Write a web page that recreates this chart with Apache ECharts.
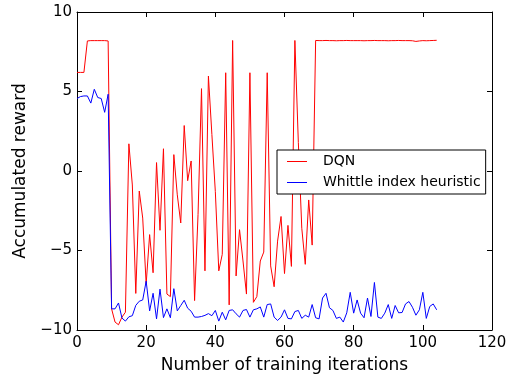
<!DOCTYPE html>
<html>
<head>
<meta charset="utf-8">
<script src="https://cdn.jsdelivr.net/npm/echarts@6/dist/echarts.min.js"></script>
<style>
  html, body { margin: 0; padding: 0; background: #fff; }
  #chart { width: 514px; height: 379px; }
</style>
</head>
<body>
<div id="chart"></div>
<script>
// accumulated reward per training iteration (iterations 0..104)
const dqnReward = [
  6.2, 6.2, 6.2, 8.18, 8.2, 8.2, 8.2, 8.2, 8.2, 8.18,
  -8.67, -9.5, -9.67, -9.19, -8.88, 1.71, -0.88, -7.7, -1.26, -2.96,
  -7.1, -4.0, -6.4, 0.53, -3.73, 1.4, -7.74, -7.9, 1.03, -1.5,
  -3.27, 2.86, -0.61, 0.63, -8.15, -2.75, 5.18, -6.28, 5.97, 2.3,
  -1.3, -6.28, -5.24, 6.18, -8.42, 8.21, -6.6, -3.69, -5.66, -7.74,
  6.18, -8.26, -7.9, -5.66, -5.1, 6.18, -5.97, -7.28, -4.41, -2.86,
  -6.45, -3.42, -6.0, 8.21, 1.8, -3.6, -5.87, -1.82, -4.66, 8.21,
  8.2, 8.2, 8.21, 8.2, 8.2, 8.19, 8.2, 8.2, 8.21, 8.2,
  8.2, 8.2, 8.2, 8.19, 8.2, 8.2, 8.21, 8.2, 8.2, 8.2,
  8.19, 8.2, 8.2, 8.21, 8.2, 8.2, 8.2, 8.19, 8.15, 8.18,
  8.2, 8.19, 8.2, 8.21, 8.22
];
const whittleReward = [
  4.56, 4.68, 4.72, 4.72, 4.27, 5.14, 4.62, 4.56, 3.69, 4.83,
  -8.67, -8.67, -8.3, -9.25, -9.44, -9.17, -9.1, -8.45, -8.19, -8.11,
  -6.93, -8.8, -7.69, -9.3, -7.43, -9.22, -8.67, -9.23, -7.4, -8.8,
  -8.46, -8.13, -8.63, -8.82, -9.19, -9.19, -9.15, -9.08, -8.97, -9.1,
  -8.77, -9.44, -8.88, -9.36, -8.77, -8.73, -8.98, -9.19, -8.77, -8.71,
  -9.19, -8.73, -8.67, -8.55, -9.19, -8.4, -8.36, -9.19, -9.4, -9.19,
  -8.73, -9.27, -9.3, -8.84, -8.77, -9.27, -9.07, -9.19, -8.4, -9.23,
  -9.3, -7.99, -7.69, -8.6, -8.77, -9.27, -9.19, -9.5, -8.92, -7.63,
  -8.94, -8.11, -8.94, -9.23, -7.99, -9.15, -7.01, -9.19, -9.27, -8.94,
  -8.4, -9.27, -8.46, -8.92, -8.9, -8.36, -8.21, -8.57, -9.07, -8.73,
  -7.63, -9.27, -8.52, -8.36, -8.73
];
const seriesNames = ['DQN', 'Whittle index heuristic'];
const xTicks = [0, 20, 40, 60, 80, 100, 120];
const yTicks = [-10, -5, 0, 5, 10];

const chart = echarts.init(document.getElementById('chart'));
const font = 'DejaVu Sans';
const minus = v => String(v).replace('-', '\u2212');

const frameAxis = {
  axisLine: { show: true, onZero: false, lineStyle: { color: '#000', width: 1 } },
  axisTick: { show: true, inside: true, length: 5, lineStyle: { color: '#000' } },
  splitLine: { show: false }
};

chart.setOption({
  animation: false,
  textStyle: { fontFamily: font },
  grid: { left: 77, right: 22, top: 12, bottom: 46 },
  legend: {
    data: seriesNames,
    orient: 'vertical',
    left: 277,
    top: 150,
    padding: [4, 5, 4, 10],
    itemGap: 6,
    itemWidth: 20,
    itemHeight: 1,
    icon: 'rect',
    borderColor: '#000',
    borderWidth: 1,
    borderRadius: 0,
    backgroundColor: '#fff',
    textStyle: { fontFamily: font, fontSize: 14, color: '#000', lineHeight: 15, padding: [0, 0, 0, 11] }
  },
  xAxis: [
    Object.assign({
      type: 'value', min: xTicks[0], max: xTicks[xTicks.length - 1], interval: 20,
      name: 'Number of training iterations',
      nameLocation: 'middle',
      nameGap: 27,
      nameTextStyle: { fontFamily: font, fontSize: 17, color: '#000' },
      axisLabel: { fontFamily: font, fontSize: 15, color: '#000', margin: 6 }
    }, frameAxis),
    Object.assign({
      type: 'value', position: 'top', min: xTicks[0], max: xTicks[xTicks.length - 1], interval: 20,
      axisLabel: { show: false }
    }, frameAxis)
  ],
  yAxis: [
    Object.assign({
      type: 'value', min: yTicks[0], max: yTicks[yTicks.length - 1], interval: 5,
      name: 'Accumulated reward',
      nameLocation: 'middle',
      nameGap: 36,
      nameTextStyle: { fontFamily: font, fontSize: 17, color: '#000' },
      axisLabel: { fontFamily: font, fontSize: 15, color: '#000', margin: 5, formatter: minus }
    }, frameAxis),
    Object.assign({
      type: 'value', position: 'right', min: yTicks[0], max: yTicks[yTicks.length - 1], interval: 5,
      axisLabel: { show: false }
    }, frameAxis)
  ],
  series: [
    {
      name: seriesNames[0],
      type: 'line',
      showSymbol: false,
      data: dqnReward.map((v, i) => [i, v]),
      lineStyle: { color: '#ff0000', width: 1 },
      itemStyle: { color: '#ff0000' }
    },
    {
      name: seriesNames[1],
      type: 'line',
      showSymbol: false,
      data: whittleReward.map((v, i) => [i, v]),
      lineStyle: { color: '#0000ff', width: 1 },
      itemStyle: { color: '#0000ff' }
    }
  ]
});
</script>
</body>
</html>
